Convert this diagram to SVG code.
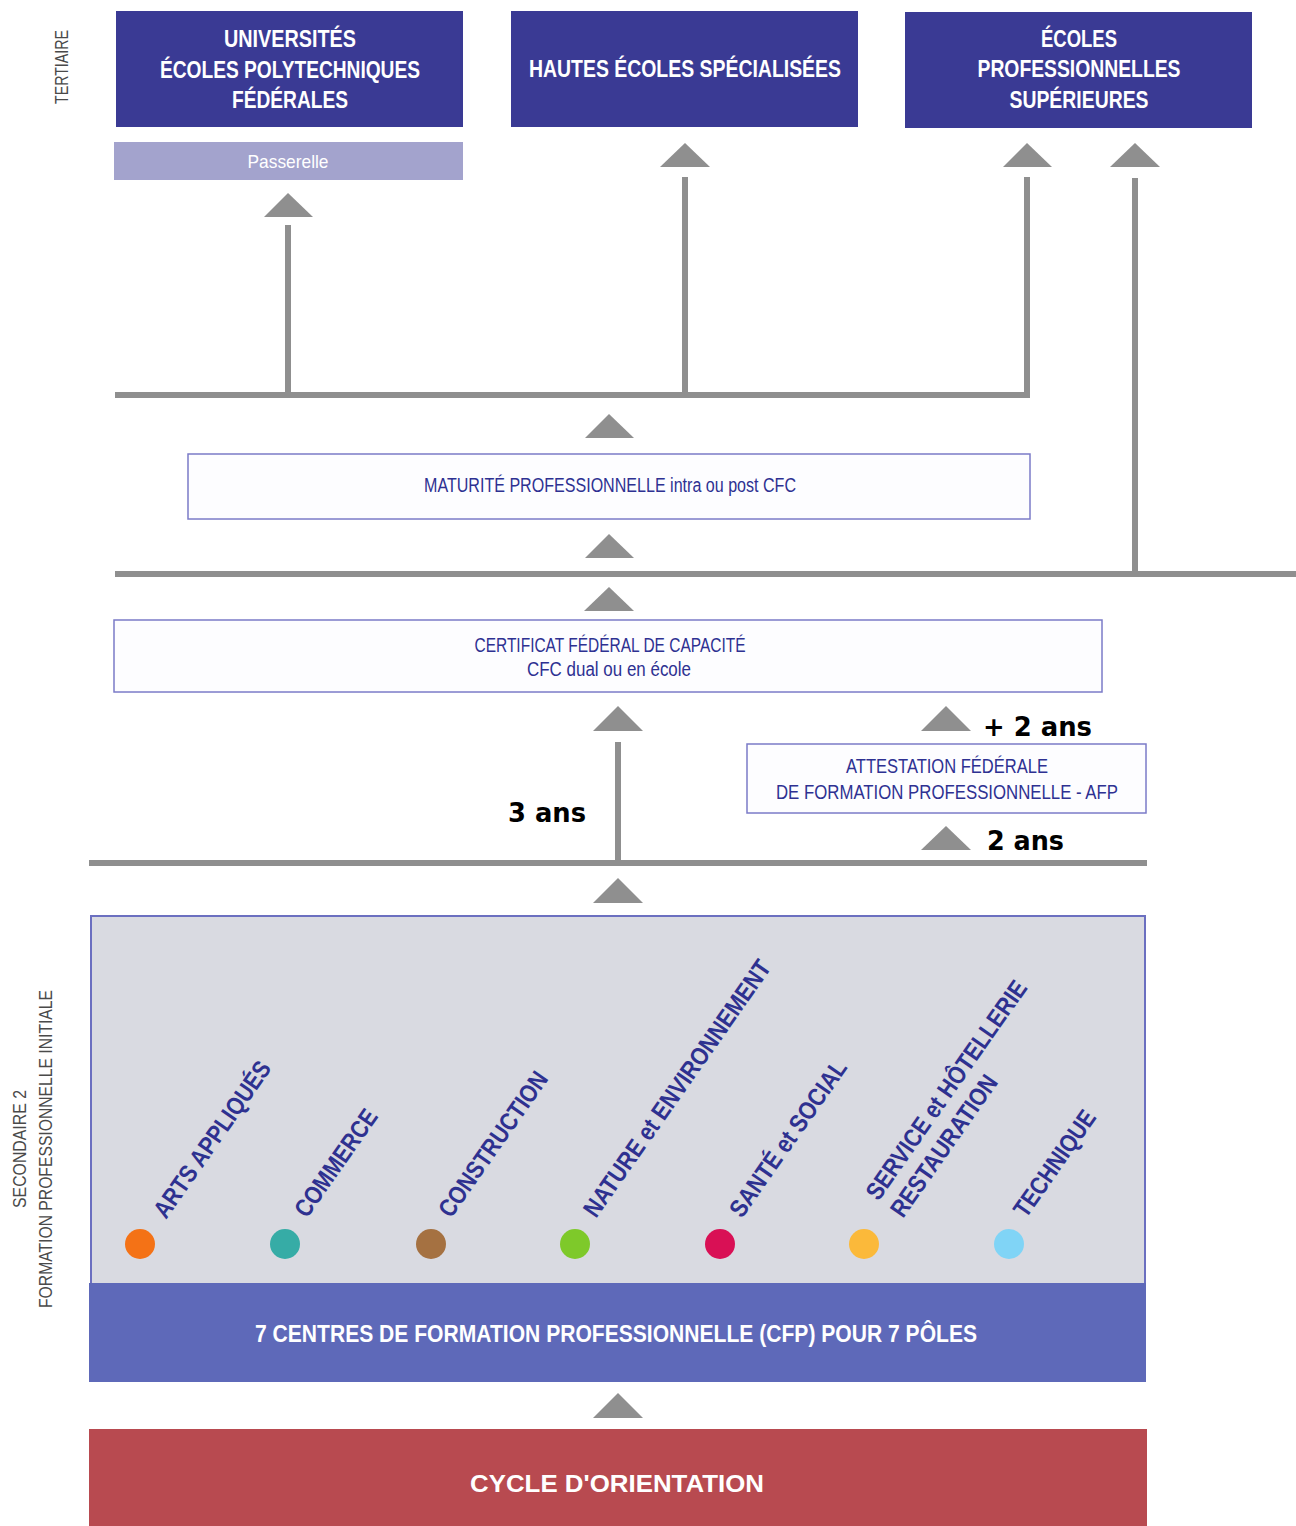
<svg xmlns="http://www.w3.org/2000/svg" width="1296" height="1526" viewBox="0 0 1296 1526">
<style>
.cond{font-family:"Liberation Sans Narrow","Liberation Sans",Arial,sans-serif;}
.tb{font-weight:bold;fill:#ffffff;font-size:23px;}
.bx{font-size:20px;fill:#2e3192;}
.pole{font-weight:bold;font-size:25px;fill:#2e3190;}
.side{font-size:18px;fill:#4a4a4a;}
.ans{font-family:"DejaVu Sans",Verdana,sans-serif;font-weight:bold;font-size:26px;fill:#000;}
.dark{fill:#3a3a94;}
.wbox{fill:#fdfdff;stroke:#7b7bc8;stroke-width:1.5;}
.ln{stroke:#8f8f8f;stroke-width:6;fill:none;}
.tri{fill:#8f8f8f;}
</style>

<g id="labels-side" class="cond side">
<text transform="translate(68,67) rotate(-90)" text-anchor="middle" textLength="74" lengthAdjust="spacingAndGlyphs">TERTIAIRE</text>
<text transform="translate(26,1149) rotate(-90)" text-anchor="middle" textLength="118" lengthAdjust="spacingAndGlyphs">SECONDAIRE 2</text>
<text transform="translate(52,1149) rotate(-90)" text-anchor="middle" textLength="318" lengthAdjust="spacingAndGlyphs">FORMATION PROFESSIONNELLE INITIALE</text>
</g>

<g id="universites">
<rect class="dark" x="116" y="11" width="347" height="116"/>
<text class="cond tb" x="290" y="47" text-anchor="middle" textLength="132" lengthAdjust="spacingAndGlyphs">UNIVERSITÉS</text>
<text class="cond tb" x="290" y="78" text-anchor="middle" textLength="260" lengthAdjust="spacingAndGlyphs">ÉCOLES POLYTECHNIQUES</text>
<text class="cond tb" x="290" y="108" text-anchor="middle" textLength="116" lengthAdjust="spacingAndGlyphs">FÉDÉRALES</text>
</g>

<g id="hes">
<rect class="dark" x="511" y="11" width="347" height="116"/>
<text class="cond tb" x="685" y="77" text-anchor="middle" textLength="312" lengthAdjust="spacingAndGlyphs">HAUTES ÉCOLES SPÉCIALISÉES</text>
</g>

<g id="eps">
<rect class="dark" x="905" y="12" width="347" height="116"/>
<text class="cond tb" x="1079" y="47" text-anchor="middle" textLength="76" lengthAdjust="spacingAndGlyphs">ÉCOLES</text>
<text class="cond tb" x="1079" y="77" text-anchor="middle" textLength="203" lengthAdjust="spacingAndGlyphs">PROFESSIONNELLES</text>
<text class="cond tb" x="1079" y="108" text-anchor="middle" textLength="139" lengthAdjust="spacingAndGlyphs">SUPÉRIEURES</text>
</g>

<g id="passerelle">
<rect x="114" y="142" width="349" height="38" fill="#a3a3cd"/>
<text class="cond" x="288" y="168" font-size="19" fill="#ffffff" text-anchor="middle" textLength="81" lengthAdjust="spacingAndGlyphs">Passerelle</text>
</g>

<g id="connectors">
<line class="ln" x1="288" y1="225" x2="288" y2="395"/>
<line class="ln" x1="685" y1="177" x2="685" y2="395"/>
<line class="ln" x1="1027" y1="177" x2="1027" y2="398"/>
<line class="ln" x1="1135" y1="178" x2="1135" y2="577"/>
<line class="ln" x1="115" y1="395" x2="1030" y2="395"/>
<line class="ln" x1="115" y1="574" x2="1296" y2="574"/>
<line class="ln" x1="618" y1="742" x2="618" y2="863"/>
<line class="ln" x1="89" y1="863" x2="1147" y2="863"/>
<polygon class="tri" points="264,217 288,193 313,217"/>
<polygon class="tri" points="660,167 685,143 710,167"/>
<polygon class="tri" points="1003,167 1027,143 1052,167"/>
<polygon class="tri" points="1110,167 1135,143 1160,167"/>
<polygon class="tri" points="585,438 609,414 634,438"/>
<polygon class="tri" points="585,558 609,534 634,558"/>
<polygon class="tri" points="584,611 609,587 634,611"/>
<polygon class="tri" points="593,731 618,706 643,731"/>
<polygon class="tri" points="921,731 946,706 971,731"/>
<polygon class="tri" points="921,850 946,826 971,850"/>
<polygon class="tri" points="593,903 618,878 643,903"/>
<polygon class="tri" points="593,1418 618,1393 643,1418"/>
</g>

<g id="maturite">
<rect class="wbox" x="188" y="454" width="842" height="65"/>
<text class="cond bx" x="610" y="492" text-anchor="middle" textLength="372" lengthAdjust="spacingAndGlyphs">MATURITÉ PROFESSIONNELLE intra ou post CFC</text>
</g>

<g id="cfc">
<rect class="wbox" x="114" y="620" width="988" height="72"/>
<text class="cond bx" x="610" y="652" text-anchor="middle" textLength="271" lengthAdjust="spacingAndGlyphs">CERTIFICAT FÉDÉRAL DE CAPACITÉ</text>
<text class="cond bx" x="609" y="676" text-anchor="middle" textLength="164" lengthAdjust="spacingAndGlyphs">CFC dual ou en école</text>
</g>

<g id="afp">
<rect class="wbox" x="747" y="744" width="399" height="69"/>
<text class="cond bx" x="947" y="773" text-anchor="middle" textLength="202" lengthAdjust="spacingAndGlyphs">ATTESTATION FÉDÉRALE</text>
<text class="cond bx" x="947" y="799" text-anchor="middle" textLength="342" lengthAdjust="spacingAndGlyphs">DE FORMATION PROFESSIONNELLE - AFP</text>
</g>

<g id="durees">
<text class="ans" x="508" y="822" textLength="78" lengthAdjust="spacingAndGlyphs">3 ans</text>
<text class="ans" x="983" y="736" textLength="109" lengthAdjust="spacingAndGlyphs">+ 2 ans</text>
<text class="ans" x="987" y="850" textLength="77" lengthAdjust="spacingAndGlyphs">2 ans</text>
</g>

<g id="poles">
<rect x="91" y="916" width="1054" height="368" fill="#d9dae1" stroke="#6b6fc0" stroke-width="2"/>
<ellipse cx="140" cy="1244" rx="15" ry="15" fill="#f47216"/>
<ellipse cx="285" cy="1244" rx="15" ry="15" fill="#36aca6"/>
<ellipse cx="431" cy="1244" rx="15" ry="15" fill="#a57141"/>
<ellipse cx="575" cy="1244" rx="15" ry="15" fill="#7ec92a"/>
<ellipse cx="720" cy="1244" rx="15" ry="15" fill="#d91055"/>
<ellipse cx="864" cy="1244" rx="15" ry="15" fill="#fbb93a"/>
<ellipse cx="1009" cy="1244" rx="15" ry="15" fill="#80d4f6"/>
<text class="cond pole" transform="translate(166,1220) rotate(-55)" textLength="185" lengthAdjust="spacingAndGlyphs">ARTS APPLIQUÉS</text>
<text class="cond pole" transform="translate(307,1219) rotate(-55)" textLength="125" lengthAdjust="spacingAndGlyphs">COMMERCE</text>
<text class="cond pole" transform="translate(451,1219) rotate(-55)" textLength="171" lengthAdjust="spacingAndGlyphs">CONSTRUCTION</text>
<text class="cond pole" transform="translate(596,1219) rotate(-55)" textLength="307" lengthAdjust="spacingAndGlyphs">NATURE et ENVIRONNEMENT</text>
<text class="cond pole" transform="translate(742,1219) rotate(-55)" textLength="185" lengthAdjust="spacingAndGlyphs">SANTÉ et SOCIAL</text>
<g transform="translate(903,1219) rotate(-55)">
<text class="cond pole" x="0" y="-30" textLength="261" lengthAdjust="spacingAndGlyphs">SERVICE et HÔTELLERIE</text>
<text class="cond pole" x="0" y="0" textLength="167" lengthAdjust="spacingAndGlyphs">RESTAURATION</text>
</g>
<text class="cond pole" transform="translate(1026,1219) rotate(-55)" textLength="124" lengthAdjust="spacingAndGlyphs">TECHNIQUE</text>
</g>

<g id="cfp">
<rect x="89" y="1283" width="1057" height="99" fill="#5e69b9"/>
<text class="cond tb" x="616" y="1342" text-anchor="middle" textLength="722" lengthAdjust="spacingAndGlyphs">7 CENTRES DE FORMATION PROFESSIONNELLE (CFP) POUR 7 PÔLES</text>
</g>

<g id="orientation">
<rect x="89" y="1429" width="1058" height="97" fill="#b84a50"/>
<text class="cond tb" x="617" y="1492" text-anchor="middle" textLength="294" lengthAdjust="spacingAndGlyphs">CYCLE D'ORIENTATION</text>
</g>
</svg>
